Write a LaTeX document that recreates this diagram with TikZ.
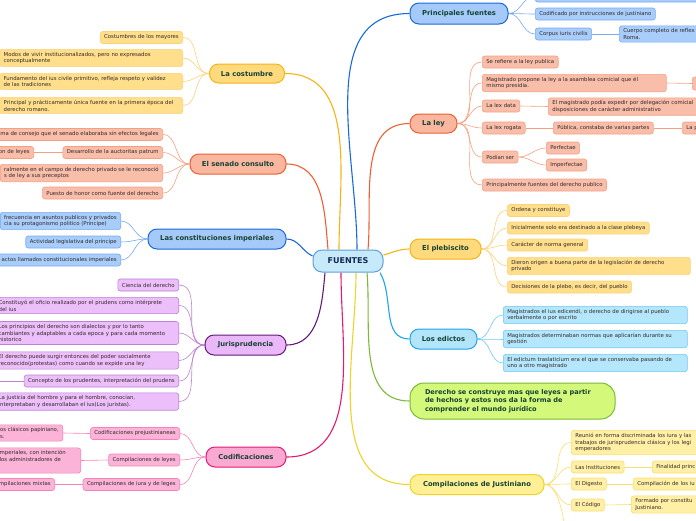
\documentclass[tikz,border=0pt]{standalone}
\usepackage{fontspec}
\setmainfont{DejaVu Sans}
\pgfdeclarelayer{bg}
\pgfsetlayers{bg,main}
\definecolor{topictext}{RGB}{22,66,52}
\definecolor{leaftext}{RGB}{50,40,40}
\definecolor{centext}{RGB}{20,40,80}
\definecolor{cenfill}{RGB}{198,234,250}
\definecolor{cendraw}{RGB}{95,160,215}
\definecolor{ambfill}{RGB}{255,218,125}
\definecolor{ambdraw}{RGB}{245,180,20}
\definecolor{ambleaf}{RGB}{255,223,140}
\definecolor{ambline}{RGB}{252,210,120}
\definecolor{salfill}{RGB}{249,183,160}
\definecolor{saldraw}{RGB}{238,95,50}
\definecolor{salleaf}{RGB}{249,190,170}
\definecolor{salline}{RGB}{245,160,130}
\definecolor{blufill}{RGB}{165,202,250}
\definecolor{bludraw}{RGB}{25,105,215}
\definecolor{bluleaf}{RGB}{168,205,250}
\definecolor{bluline}{RGB}{120,170,240}
\definecolor{purfill}{RGB}{234,183,248}
\definecolor{purdraw}{RGB}{100,25,120}
\definecolor{purleaf}{RGB}{236,190,250}
\definecolor{purline}{RGB}{190,130,210}
\definecolor{pnkfill}{RGB}{250,170,210}
\definecolor{pnkdraw}{RGB}{228,25,115}
\definecolor{pnkleaf}{RGB}{251,180,215}
\definecolor{pnkline}{RGB}{245,130,185}
\definecolor{cyafill}{RGB}{178,228,250}
\definecolor{cyadraw}{RGB}{30,165,235}
\definecolor{cyaleaf}{RGB}{180,230,252}
\definecolor{cyaline}{RGB}{110,200,245}
\definecolor{limfill}{RGB}{212,248,122}
\definecolor{limdraw}{RGB}{125,185,55}
\definecolor{yelfill}{RGB}{255,240,150}
\definecolor{yeldraw}{RGB}{240,210,40}
\definecolor{yelleaf}{RGB}{255,240,165}
\definecolor{yelline}{RGB}{248,222,110}

\begin{document}
\begin{tikzpicture}[x=1pt, y=-1pt,
  leaf/.style={font=\fontsize{5.35}{6.8}\selectfont, text=leaftext, rounded corners=2.5pt,
    inner xsep=4pt, inner ysep=2.6pt, minimum height=12pt, align=left, line width=0.6pt},
  topic/.style={font=\fontsize{6.8}{8}\selectfont\bfseries, text=topictext, rounded corners=9pt,
    minimum height=20pt, line width=1pt},
  twig/.style={line width=0.6pt},
  limb/.style={line width=1.1pt},
  ambleaf/.style={leaf, fill=ambleaf, draw=ambline},
  salleaf/.style={leaf, fill=salleaf, draw=salline},
  bluleaf/.style={leaf, fill=bluleaf, draw=bluline},
  purleaf/.style={leaf, fill=purleaf, draw=purline},
  pnkleaf/.style={leaf, fill=pnkleaf, draw=pnkline},
  cyaleaf/.style={leaf, fill=cyaleaf, draw=cyaline},
  yelleaf/.style={leaf, fill=yelleaf, draw=yelline}]
  \useasboundingbox (0,0) rectangle (696,520);

  % centre
  \node[topic, font=\fontsize{8}{9}\selectfont\bfseries, text=centext, fill=cenfill, draw=cendraw,
    minimum width=70pt, minimum height=22pt] (fuentes) at (348,261) {FUENTES};

  % main topics, left side
  \node[topic, fill=ambfill, draw=ambdraw, minimum width=75pt, minimum height=19pt] (cost) at (247,73.5) {La costumbre};
  \node[topic, fill=salfill, draw=saldraw, minimum width=96pt] (sen) at (238,164) {El senado consulto};
  \node[topic, fill=blufill, draw=bludraw, minimum width=138pt] (cons) at (217,239) {Las constituciones imperiales};
  \node[topic, fill=purfill, draw=purdraw, minimum width=81pt] (juris) at (245.5,345) {Jurisprudencia};
  \node[topic, fill=pnkfill, draw=pnkdraw, minimum width=80pt] (codif) at (246,457) {Codificaciones};

  % main topics, right side
  \node[topic, fill=blufill, draw=bludraw, minimum width=98pt, minimum height=21pt] (princ) at (459,13.5) {Principales fuentes};
  \node[topic, fill=salfill, draw=saldraw, minimum width=47pt, minimum height=19pt] (ley) at (433.5,123.5) {La ley};
  \node[topic, fill=ambfill, draw=ambdraw, minimum width=71pt] (pleb) at (445.5,249) {El plebiscito};
  \node[topic, fill=cyafill, draw=cyadraw, minimum width=67pt] (edic) at (443.5,339) {Los edictos};
  \node[topic, fill=limfill, draw=limdraw, rounded corners=14pt, minimum width=205pt, minimum height=36pt,
    text width=175pt, inner xsep=15pt, align=left, font=\fontsize{6.6}{8.5}\selectfont\bfseries] (hechos) at (512.5,401)
    {Derecho se construye mas que leyes a partir\\de hechos y estos nos da la forma de\\comprender el mundo jurídico};
  \node[topic, fill=yelfill, draw=yeldraw, minimum width=134pt] (just) at (477,484.5) {Compilaciones de Justiniano};

  % la costumbre
  \node[ambleaf, anchor=east] (c1) at (183,37.5) {Costumbres de los mayores};
  \node[ambleaf, anchor=east, text width=175pt] (c2) at (183,58) {Modos de vivir institucionalizados, pero no expresados\\conceptualmente};
  \node[ambleaf, anchor=east, text width=175pt] (c3) at (183,81.5) {Fundamento del ius civile primitivo, refleja respeto y validez\\de las tradiciones};
  \node[ambleaf, anchor=east, text width=175pt] (c4) at (183,105.5) {Principal y prácticamente única fuente en la primera época del\\derecho romano.};

  % el senado consulto
  \node[salleaf, anchor=east] (s1) at (163,134.5) {ma de consejo que el senado elaboraba sin efectos legales};
  \node[salleaf, anchor=east] (s2) at (163,152.5) {Desarrollo de la auctoritas patrum};
  \node[salleaf, anchor=east] (s2a) at (34,152.5) {on de leyes};
  \node[salleaf, anchor=east] (s3) at (163,173) {ralmente en el campo de derecho privado se le reconoció\\s de ley a sus preceptos};
  \node[salleaf, anchor=east] (s4) at (163,193) {Puesto de honor como fuente del derecho};

  % las constituciones imperiales
  \node[bluleaf, anchor=east] (k1) at (121,221) {frecuencia en asuntos publicos y privados\\cia su protagonismo politico (Principe)};
  \node[bluleaf, anchor=east] (k2) at (121,242) {Actividad legislativa del principe};
  \node[bluleaf, anchor=east] (k3) at (121,260) {actos llamados constitucionales imperiales};

  % jurisprudencia
  \node[purleaf, anchor=east] (j1) at (179,285) {Ciencia del derecho};
  \node[purleaf, anchor=east, text width=176pt] (j2) at (179,305.5) {Constituyó el oficio realizado por el prudens como intérprete\\del ius};
  \node[purleaf, anchor=east, text width=176pt] (j3) at (179,333) {Los principios del derecho son dialectos y por lo tanto\\cambiantes y adaptables a cada epoca y para cada momento\\historico};
  \node[purleaf, anchor=east, text width=176pt] (j4) at (179,360.5) {El derecho puede surgir entonces del poder socialmente\\reconocido(protestas) como cuando se expide una ley};
  \node[purleaf, anchor=east] (j5) at (179,381) {Concepto de los prudentes, interpretación del prudens};
  \coordinate (j5x) at (-5,381);
  \node[purleaf, anchor=east, text width=176pt] (j6) at (179,401.5) {La justicia del hombre y para el hombre, conocían,\\interpretaban y desarrollaban el ius(Los juristas).};

  % codificaciones
  \node[pnkleaf, anchor=east] (d1) at (180,433.5) {Codificaciones prejustinianeas};
  \node[pnkleaf, anchor=east] (d1a) at (63,433) {os clásicos papiniano,\\s.};
  \node[pnkleaf, anchor=east] (d2) at (180,460) {Compilaciones de leyes};
  \node[pnkleaf, anchor=east, text width=77pt, minimum height=25pt] (d2a) at (81,460.5) {mperiales, con intención\\ los administradores de\\\strut};
  \node[pnkleaf, anchor=east] (d3) at (180,484.5) {Compilaciones de iura y de leges};
  \node[pnkleaf, anchor=east] (d3a) at (55,484.5) {mpilaciones mixtas};

  % principales fuentes
  \node[bluleaf, anchor=west, text width=190pt] (p0) at (535,-4) {};
  \node[bluleaf, anchor=west] (p1) at (535,14) {Codificado por instrucciones de justiniano};
  \node[bluleaf, anchor=west] (p2) at (535,34) {Corpus iuris civilis};
  \node[bluleaf, anchor=west, text width=90pt] (p2a) at (619,34) {Cuerpo completo de reflex\\Roma.};

  % la ley
  \node[salleaf, anchor=west, text width=176pt] (l2) at (482,83) {Magistrado propone la ley a la asamblea comicial que él\\mismo presidia.};
  \node[salleaf, anchor=west] (l1) at (482,62) {Se refiere a la ley publica};
  \node[salleaf, anchor=west, text width=14pt, minimum height=13pt] (l2a) at (692,83.5) {};
  \node[salleaf, anchor=west] (l3) at (482,106) {La lex data};
  \node[salleaf, anchor=west, text width=160pt] (l3a) at (548,106.5) {El magistrado podía expedir por delegación comicial\\disposiciones de carácter administrativo};
  \node[salleaf, anchor=west] (l4) at (482,128) {La lex rogata};
  \node[salleaf, anchor=west] (l4a) at (553,128) {Pública, constaba de varias partes};
  \node[salleaf, anchor=west, text width=30pt] (l4b) at (682,128) {La p};
  \node[salleaf, anchor=west] (l5) at (482,157) {Podían ser};
  \node[salleaf, anchor=west] (l5a) at (546,148) {Perfectae};
  \node[salleaf, anchor=west] (l5b) at (546,165) {Imperfectae};
  \node[salleaf, anchor=west] (l6) at (482,185) {Principalmente fuentes del derecho publico};

  % el plebiscito
  \node[ambleaf, anchor=west] (b1) at (507,210.5) {Ordena y constituye};
  \node[ambleaf, anchor=west] (b2) at (507,228) {Inicialmente solo era destinado a la clase plebeya};
  \node[ambleaf, anchor=west] (b3) at (507,245) {Carácter de norma general};
  \node[ambleaf, anchor=west, text width=175pt] (b4) at (507,266) {Dieron origen a buena parte de la legislación de derecho\\privado};
  \node[ambleaf, anchor=west] (b5) at (507,287) {Decisiones de la plebe, es decir, del pueblo};

  % los edictos
  \node[cyaleaf, anchor=west, text width=176pt] (e1) at (503,315) {Magistrados el ius edicendi, o derecho de dirigirse al pueblo\\verbalmente o por escrito};
  \node[cyaleaf, anchor=west, text width=176pt] (e2) at (503,339) {Magistrados determinaban normas que aplicarían durante su\\gestión};
  \node[cyaleaf, anchor=west, text width=176pt] (e3) at (503,363) {El edictum traslaticium era el que se conservaba pasando de\\uno a otro magistrado};

  % compilaciones de justiniano
  \node[yelleaf, anchor=west, text width=140pt] (z1) at (571,442.5) {Reunió en forma discriminada los iura y las\\trabajos de jurisprudencia clásica y los legi\\emperadores};
  \node[yelleaf, anchor=west] (z2) at (571,467) {Las Instituciones};
  \node[yelleaf, anchor=west, text width=60pt] (z2a) at (652,467) {Finalidad princ};
  \node[yelleaf, anchor=west] (z3) at (571,484) {El Digesto};
  \node[yelleaf, anchor=west, text width=80pt] (z3a) at (633,484) {Compilación de los iu};
  \node[yelleaf, anchor=west] (z4) at (571,505) {El Código};
  \node[yelleaf, anchor=west, text width=80pt] (z4a) at (631,504.5) {Formado por constitu\\Justiniano.};
  \coordinate (z5) at (566,530);

  \begin{pgfonlayer}{bg}
    % limbs from the centre
    \draw[limb, ambdraw] ([xshift=-9pt]fuentes.north) to[out=90, in=0] (cost.east);
    \draw[limb, saldraw] ([xshift=-20pt]fuentes.north) to[out=95, in=0] (sen.east);
    \draw[limb, bludraw] ([yshift=5pt]fuentes.west) to[out=155, in=0] (cons.east);
    \draw[limb, purdraw] ([xshift=-23pt]fuentes.south) to[out=-95, in=0] (juris.east);
    \draw[limb, pnkdraw] ([xshift=-7pt]fuentes.south) to[out=-90, in=0] (codif.east);
    \draw[limb, bludraw] ([xshift=9pt]fuentes.north) to[out=90, in=180] (princ.west);
    \draw[limb, saldraw] ([xshift=20pt]fuentes.north) to[out=85, in=180] (ley.west);
    \draw[limb, ambdraw] ([yshift=6pt]fuentes.east) to[out=15, in=180] (pleb.west);
    \draw[limb, cyadraw] ([xshift=32pt]fuentes.south) to[out=-60, in=180] (edic.west);
    \draw[limb, limdraw] ([xshift=19pt]fuentes.south) to[out=-85, in=180] (hechos.west);
    \draw[limb, yeldraw] ([xshift=8pt]fuentes.south) to[out=-90, in=180] (just.west);
    % twigs, left side
    \draw[twig, ambline] (cost.west) to[out=180, in=0] (c1.east);
    \draw[twig, ambline] (cost.west) to[out=180, in=0] (c2.east);
    \draw[twig, ambline] (cost.west) to[out=180, in=0] (c3.east);
    \draw[twig, ambline] (cost.west) to[out=180, in=0] (c4.east);
    \draw[twig, salline] (sen.west) to[out=180, in=0] (s1.east);
    \draw[twig, salline] (sen.west) to[out=180, in=0] (s2.east);
    \draw[twig, salline] (s2.west) -- (s2a.east);
    \draw[twig, salline] (sen.west) to[out=180, in=0] (s3.east);
    \draw[twig, salline] (sen.west) to[out=180, in=0] (s4.east);
    \draw[twig, bluline] (cons.west) to[out=180, in=0] (k1.east);
    \draw[twig, bluline] (cons.west) to[out=180, in=0] (k2.east);
    \draw[twig, bluline] (cons.west) to[out=180, in=0] (k3.east);
    \draw[twig, purline] (juris.west) to[out=180, in=0] (j1.east);
    \draw[twig, purline] (juris.west) to[out=180, in=0] (j2.east);
    \draw[twig, purline] (juris.west) to[out=180, in=0] (j3.east);
    \draw[twig, purline] (juris.west) to[out=180, in=0] (j4.east);
    \draw[twig, purline] (juris.west) to[out=180, in=0] (j5.east);
    \draw[twig, purline] (j5.west) -- (j5x);
    \draw[twig, purline] (juris.west) to[out=180, in=0] (j6.east);
    \draw[twig, pnkline] (codif.west) to[out=180, in=0] (d1.east);
    \draw[twig, pnkline] (d1.west) -- (d1a.east);
    \draw[twig, pnkline] (codif.west) to[out=180, in=0] (d2.east);
    \draw[twig, pnkline] (d2.west) -- (d2a.east);
    \draw[twig, pnkline] (codif.west) to[out=180, in=0] (d3.east);
    \draw[twig, pnkline] (d3.west) -- (d3a.east);
    % twigs, right side
    \draw[twig, bluline] (princ.east) to[out=0, in=180] (p0.west);
    \draw[twig, bluline] (princ.east) to[out=0, in=180] (p1.west);
    \draw[twig, bluline] (princ.east) to[out=0, in=180] (p2.west);
    \draw[twig, bluline] (p2.east) -- (p2a.west);
    \draw[twig, salline] (ley.east) to[out=0, in=180] (l1.west);
    \draw[twig, salline] (ley.east) to[out=0, in=180] (l2.west);
    \draw[twig, salline] (l2.east) -- (l2a.west);
    \draw[twig, salline] (ley.east) to[out=0, in=180] (l3.west);
    \draw[twig, salline] (l3.east) -- (l3a.west);
    \draw[twig, salline] (ley.east) to[out=0, in=180] (l4.west);
    \draw[twig, salline] (l4.east) -- (l4a.west);
    \draw[twig, salline] (l4a.east) -- (l4b.west);
    \draw[twig, salline] (ley.east) to[out=0, in=180] (l5.west);
    \draw[twig, salline] (l5.east) to[out=0, in=180] (l5a.west);
    \draw[twig, salline] (l5.east) to[out=0, in=180] (l5b.west);
    \draw[twig, salline] (ley.east) to[out=0, in=180] (l6.west);
    \draw[twig, ambline] (pleb.east) to[out=0, in=180] (b1.west);
    \draw[twig, ambline] (pleb.east) to[out=0, in=180] (b2.west);
    \draw[twig, ambline] (pleb.east) to[out=0, in=180] (b3.west);
    \draw[twig, ambline] (pleb.east) to[out=0, in=180] (b4.west);
    \draw[twig, ambline] (pleb.east) to[out=0, in=180] (b5.west);
    \draw[twig, cyaline] (edic.east) to[out=0, in=180] (e1.west);
    \draw[twig, cyaline] (edic.east) to[out=0, in=180] (e2.west);
    \draw[twig, cyaline] (edic.east) to[out=0, in=180] (e3.west);
    \draw[twig, yelline] (just.east) to[out=0, in=180] (z1.west);
    \draw[twig, yelline] (just.east) to[out=0, in=180] (z2.west);
    \draw[twig, yelline] (z2.east) -- (z2a.west);
    \draw[twig, yelline] (just.east) to[out=0, in=180] (z3.west);
    \draw[twig, yelline] (z3.east) -- (z3a.west);
    \draw[twig, yelline] (just.east) to[out=0, in=180] (z4.west);
    \draw[twig, yelline] (z4.east) -- (z4a.west);
    \draw[twig, yelline] (just.east) to[out=0, in=-90] (z5);
  \end{pgfonlayer}
\end{tikzpicture}
\end{document}
